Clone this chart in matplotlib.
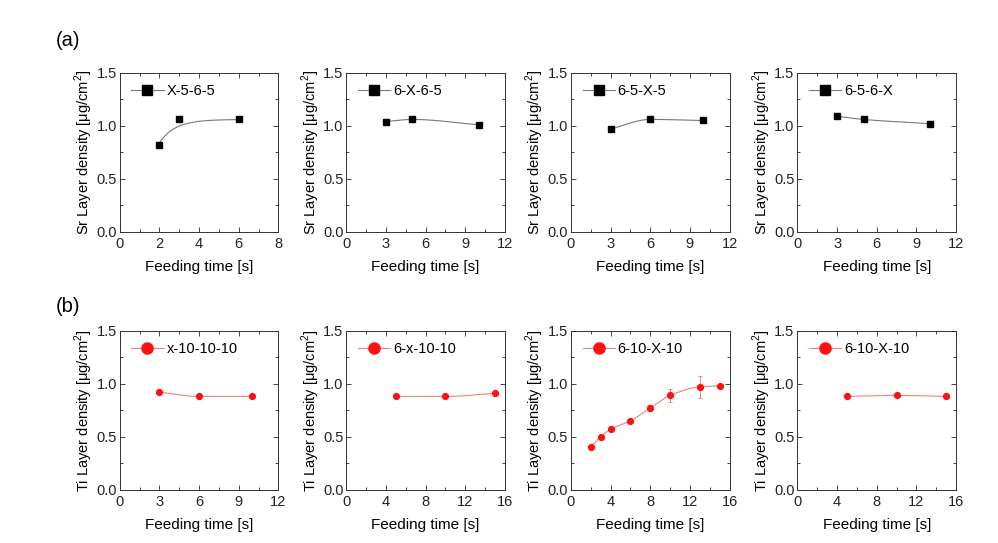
import matplotlib
matplotlib.use("Agg")
import matplotlib.pyplot as plt
import numpy as np
from matplotlib.ticker import MultipleLocator, FormatStrFormatter

plt.rcParams['font.family'] = ['Liberation Sans', 'DejaVu Sans']
plt.rcParams['mathtext.fontset'] = 'custom'
plt.rcParams['mathtext.rm'] = 'Liberation Sans'

# Row (a): Sr layer density
sr_labels = ["X-5-6-5", "6-X-6-5", "6-5-X-5", "6-5-6-X"]
sr_x = [[2, 3, 6], [3, 5, 10], [3, 6, 10], [3, 5, 10]]
sr_y = [[0.82, 1.06, 1.06], [1.04, 1.06, 1.01], [0.97, 1.06, 1.05], [1.09, 1.06, 1.02]]
sr_xmax = [8, 12, 12, 12]
sr_xstep = [2, 3, 3, 3]

# Row (b): Ti layer density
ti_labels = ["x-10-10-10", "6-x-10-10", "6-10-X-10", "6-10-X-10"]
ti_x = [[3, 6, 10], [5, 10, 15], [2, 3, 4, 6, 8, 10, 13, 15], [5, 10, 15]]
ti_y = [[0.92, 0.88, 0.88], [0.88, 0.88, 0.91],
        [0.40, 0.50, 0.57, 0.65, 0.77, 0.89, 0.97, 0.98], [0.88, 0.89, 0.88]]
ti_err = [None, None, [0.01, 0.01, 0.01, 0.01, 0.03, 0.06, 0.10, 0.01], None]
ti_xmax = [12, 16, 16, 16]
ti_xstep = [3, 4, 4, 4]

# saturating fit drawn in the first Sr panel
fit_a, fit_b, fit_tau = 1.06, 0.22, 0.8


def smooth(x, y, n=30):
    # monotone cubic (Fritsch-Carlson) curve through the points
    x = np.asarray(x, float)
    y = np.asarray(y, float)
    h = np.diff(x)
    d = np.diff(y) / h
    m = np.zeros_like(y)
    m[0], m[-1] = d[0], d[-1]
    for k in range(1, len(x) - 1):
        if d[k - 1] * d[k] <= 0:
            m[k] = 0
        else:
            w1 = 2 * h[k] + h[k - 1]
            w2 = h[k] + 2 * h[k - 1]
            m[k] = (w1 + w2) / (w1 / d[k - 1] + w2 / d[k])
    xs, ys = [], []
    t = np.linspace(0, 1, n)
    h00 = 2 * t**3 - 3 * t**2 + 1
    h10 = t**3 - 2 * t**2 + t
    h01 = -2 * t**3 + 3 * t**2
    h11 = t**3 - t**2
    for i in range(len(x) - 1):
        xs.append(x[i] + t * h[i])
        ys.append(h00 * y[i] + h10 * h[i] * m[i] + h01 * y[i + 1] + h11 * h[i] * m[i + 1])
    return np.concatenate(xs), np.concatenate(ys)


def style(ax, xmax, xstep, ylabel):
    ax.set_xlim(0, xmax)
    ax.set_ylim(0, 1.5)
    ax.xaxis.set_major_locator(MultipleLocator(xstep))
    ax.xaxis.set_minor_locator(MultipleLocator(xstep / 2))
    ax.yaxis.set_major_locator(MultipleLocator(0.5))
    ax.yaxis.set_minor_locator(MultipleLocator(0.25))
    ax.yaxis.set_major_formatter(FormatStrFormatter('%.1f'))
    ax.tick_params(which='both', direction='in', top=True, right=True, labelsize=10.5,
                   colors='#222222')
    ax.tick_params(which='major', length=3.5, width=0.6)
    ax.tick_params(which='minor', length=2, width=0.6)
    ax.tick_params(axis='x', pad=4)
    ax.tick_params(axis='y', pad=2)
    for s in ax.spines.values():
        s.set_linewidth(0.7)
        s.set_color('#333333')
    ax.set_xlabel("Feeding time [s]", fontsize=11, labelpad=6)
    ax.set_ylabel(ylabel, fontsize=10.5, labelpad=1)


fig = plt.figure(figsize=(9.98, 5.43), dpi=100)
lefts = [0.120, 0.347, 0.572, 0.799]
w = 0.159
rows = [(0.573, 0.293), (0.098, 0.293)]

for i in range(4):
    ax = fig.add_axes([lefts[i], rows[0][0], w, rows[0][1]])
    if i == 0:
        xf = np.linspace(sr_x[0][0], sr_x[0][-1], 100)
        yf = fit_a - fit_b * np.exp(-(xf - sr_x[0][0]) / fit_tau)
        ax.plot(xf, yf, color='#777777', lw=0.8)
    else:
        xs, ys = smooth(sr_x[i], sr_y[i])
        ax.plot(xs, ys, color='#777777', lw=0.8)
    ax.plot(sr_x[i], sr_y[i], 's', color='black', ms=3.8, ls='none')
    line, = ax.plot([], [], '-s', color='#777777', ms=7, lw=0.8,
                    mfc='black', mec='black', label=sr_labels[i])
    ax.legend(handles=[line], loc='upper left', frameon=False, fontsize=10.5,
              handlelength=2.2, handletextpad=0.2, borderaxespad=0.4,
              bbox_to_anchor=(0.0, 1.0))
    style(ax, sr_xmax[i], sr_xstep[i], "Sr Layer density [μg/cm$^2$]")

for i in range(4):
    ax = fig.add_axes([lefts[i], rows[1][0], w, rows[1][1]])
    xs, ys = smooth(ti_x[i], ti_y[i])
    ax.plot(xs, ys, color='#f08080', lw=0.8)
    if ti_err[i] is not None:
        ax.errorbar(ti_x[i], ti_y[i], yerr=ti_err[i], fmt='none', ecolor='#f08080',
                    elinewidth=0.7, capsize=1.5, capthick=0.6)
    ax.plot(ti_x[i], ti_y[i], 'o', color='#ff1010', ms=4.2, ls='none')
    line, = ax.plot([], [], '-o', color='#f08080', ms=8, lw=0.8,
                    mfc='#ff1010', mec='#ff1010', label=ti_labels[i])
    ax.legend(handles=[line], loc='upper left', frameon=False, fontsize=10.5,
              handlelength=2.2, handletextpad=0.2, borderaxespad=0.4,
              bbox_to_anchor=(0.0, 1.0))
    style(ax, ti_xmax[i], ti_xstep[i], "Ti Layer density [μg/cm$^2$]")

fig.text(0.056, 0.915, "(a)", fontsize=14.5)
fig.text(0.056, 0.425, "(b)", fontsize=14.5)

fig.savefig("out.png", dpi=100, facecolor='white')
